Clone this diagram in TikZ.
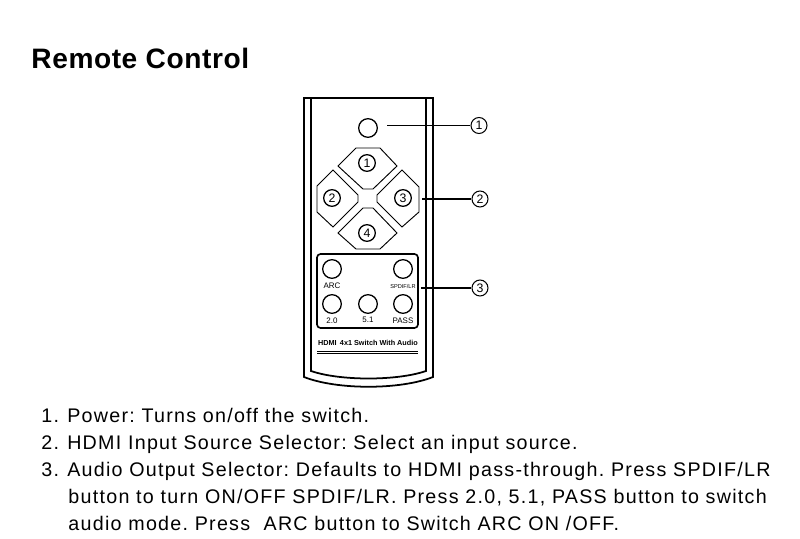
\documentclass[tikz,border=0pt]{standalone}
\usepackage{fontspec}
\setmainfont{Liberation Sans}
\newfontfamily\spacedfont[LetterSpace=2]{Liberation Sans}
\newfontfamily\bodyfont[LetterSpace=6.4]{Liberation Sans}
\newcommand{\numgap}{\ \kern1.2pt}
\usetikzlibrary{positioning, calc}

\begin{document}
\begin{tikzpicture}[x=0.03cm, y=-0.03cm, thick]
    \tikzstyle{numbtn} = [circle, draw, line width=1.1pt, minimum size=0.5cm, inner sep=0pt, font=\fontsize{10.5}{10.5}\selectfont]
    \tikzstyle{roundbtn} = [circle, draw, line width=1.1pt, minimum size=0.56cm, inner sep=0pt]
    \tikzstyle{callout} = [circle, draw, line width=0.9pt, minimum size=0.48cm, inner sep=0pt, font=\fontsize{10.5}{10.5}\selectfont]
    \tikzstyle{btnlabel} = [inner sep=0pt, font=\fontsize{6.8}{7}\selectfont]
    \tikzstyle{bodyline} = [anchor=base west, inner sep=0pt, font=\frenchspacing\bodyfont\fontsize{16.8}{18}\selectfont]
    \tikzstyle{line} = [draw, line width=0.9pt]
    \tikzstyle{shell} = [draw, line width=1.5pt]
    \tikzstyle{pad} = [draw, line width=0.8pt]

    \useasboundingbox (0,0) rectangle (800,539);

    % Title
    \node [anchor=base west, inner sep=0pt, font=\spacedfont\bfseries\fontsize{24}{26}\selectfont] (title) at (31,69) {Remote Control};

    % Remote body
    \path [shell] (304,98) -- (433,98) -- (433,377) .. controls (400,390) and (337,390) .. (304,377) -- cycle;
    \path [shell] (311,98) -- (311,371) .. controls (340,381) and (397,381) .. (426,371) -- (426,98);

    % Direction pads
    \path [pad] (338,166) -- (356,148) -- (380,148) -- (397,166) -- (373,189) -- (363,189) -- cycle;
    \path [pad] (333,170) -- (317,186) -- (317,212) -- (333,227) -- (358,202) -- (358,195) -- cycle;
    \path [pad] (402,170) -- (419,187) -- (419,212) -- (402,227) -- (377,202) -- (377,195) -- cycle;
    \path [pad] (338,233) -- (363,208) -- (373,208) -- (397,233) -- (380,249) -- (356,249) -- cycle;

    % Buttons
    \node [roundbtn] (power) at (368,128) {};
    \node [numbtn] (btna) at (367,163) {1};
    \node [numbtn] (btnb) at (332,198) {2};
    \node [numbtn] (btnc) at (403,198) {3};
    \node [numbtn] (btnd) at (367,233) {4};

    % Audio panel
    \draw [line width=1.4pt, rounded corners=3pt] (317,254) rectangle (418,328);
    \node [roundbtn] (arc) at (332,269) {};
    \node [roundbtn] (spdif) at (403,269) {};
    \node [roundbtn] (ch20) at (332,304) {};
    \node [roundbtn] (ch51) at (368,304) {};
    \node [roundbtn] (pass) at (403,304) {};
    \node [btnlabel] at (332,286) {ARC};
    \node [btnlabel, font=\fontsize{4.8}{6}\selectfont] at (403,286) {SPDIF/LR};
    \node [btnlabel] at (332,321) {2.0};
    \node [btnlabel] at (368,320) {5.1};
    \node [btnlabel] at (403,321) {PASS};

    % Model name
    \node [inner sep=0pt, font=\bfseries\fontsize{6.2}{7}\selectfont] (model) at (368,343) {HDMI\, 4x1 Switch With Audio};
    \draw [line width=0.8pt] (317,351) -- (418,351);
    \draw [line width=0.8pt] (317,353.5) -- (418,353.5);

    % Callouts
    \node [callout] (calla) at (479,125.5) {1};
    \node [callout] (callb) at (480,199) {2};
    \node [callout] (callc) at (480,288) {3};
    \coordinate (enda) at (387,125.5);
    \coordinate (endb) at (422,199);
    \coordinate (endc) at (421,288);
    \path [line] (enda) -- (calla);
    \path [line] (endb) -- (callb);
    \path [line] (endc) -- (callc);

    % Description
    \node [bodyline] (desca) at (41,422.5) {1.\numgap Power: Turns on/off the switch.};
    \node [bodyline] (descb) at (41,449.5) {2.\numgap HDMI Input Source Selector: Select an input source.};
    \node [bodyline] (descc) at (41,476.5) {3.\numgap Audio Output Selector: Defaults to HDMI pass-through. Press SPDIF/LR};
    \node [bodyline] (descd) at (68,503.5) {button to turn ON/OFF SPDIF/LR. Press 2.0, 5.1, PASS button to switch};
    \node [bodyline] (desce) at (68,530.5) {audio mode. Press\ \ ARC button to Switch ARC ON /OFF.};
\end{tikzpicture}
\end{document}
